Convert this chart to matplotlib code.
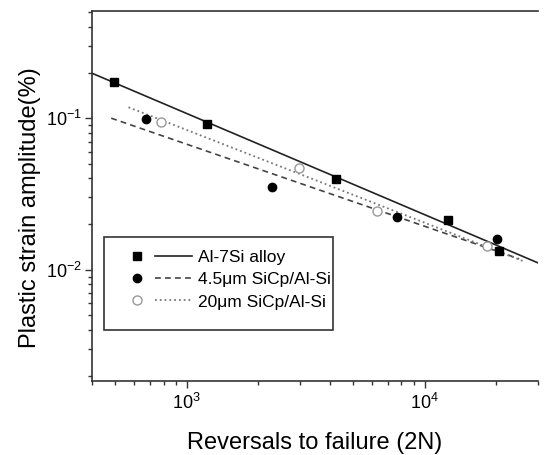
import matplotlib
matplotlib.use('Agg')
import matplotlib.pyplot as plt
from matplotlib.legend_handler import HandlerTuple
from matplotlib.patches import Rectangle
from matplotlib.ticker import LogLocator, NullFormatter, FixedLocator, FixedFormatter

plt.rcParams['font.family'] = ['Liberation Sans', 'DejaVu Sans']
plt.rcParams['mathtext.fontset'] = 'custom'
plt.rcParams['mathtext.rm'] = 'Liberation Sans'
plt.rcParams['mathtext.it'] = 'Liberation Sans:italic'

# Al-7Si alloy (squares)
al_n = [495, 1220, 4230, 12500, 20500]
al_eps = [0.172, 0.0913, 0.0394, 0.0214, 0.0132]

# 4.5um SiCp/Al-Si (filled circles)
sic45_n = [674, 2280, 7660, 20200]
sic45_eps = [0.0995, 0.035, 0.0222, 0.016]

# 20um SiCp/Al-Si (open circles)
sic20_n = [780, 2960, 6310, 18300]
sic20_eps = [0.0948, 0.0467, 0.0245, 0.0143]

# fitted lines (end points)
al_fit_n = [400, 30000]
al_fit_eps = [0.198, 0.0111]
sic45_fit_n = [482, 25000]
sic45_fit_eps = [0.100, 0.0118]
sic20_fit_n = [570, 26000]
sic20_fit_eps = [0.118, 0.0114]

labels = ['Al-7Si alloy', '4.5μm SiCp/Al-Si', '20μm SiCp/Al-Si']

fig = plt.figure(figsize=(5.44, 4.55), dpi=100)
ax = fig.add_axes([0.169, 0.163, 0.820, 0.813])

l1, = ax.plot(al_fit_n, al_fit_eps, '-', color='#222222', lw=1.2)
l2, = ax.plot(sic45_fit_n, sic45_fit_eps, '--', color='#444444', lw=1.2, dashes=(3.5, 2.5))
l3, = ax.plot(sic20_fit_n, sic20_fit_eps, ':', color='#777777', lw=1.3)

m1, = ax.plot(al_n, al_eps, 's', color='black', ms=5.5, ls='none')
m2, = ax.plot(sic45_n, sic45_eps, 'o', color='black', ms=6, ls='none')
m3, = ax.plot(sic20_n, sic20_eps, 'o', mfc='white', mec='#999999', mew=1.0, ms=6.5, ls='none')

ax.set_xscale('log')
ax.set_yscale('log')
ax.set_xlim(400, 30000)
ax.set_ylim(0.00185, 0.51)

ax.xaxis.set_major_locator(FixedLocator([1e3, 1e4]))
ax.xaxis.set_major_formatter(FixedFormatter([r'$10^{3}$', r'$10^{4}$']))
ax.xaxis.set_minor_locator(LogLocator(base=10, subs=range(2, 10)))
ax.xaxis.set_minor_formatter(NullFormatter())
ax.yaxis.set_major_locator(FixedLocator([1e-2, 1e-1]))
ax.yaxis.set_major_formatter(FixedFormatter([r'$10^{-2}$', r'$10^{-1}$']))
ax.yaxis.set_minor_locator(LogLocator(base=10, subs=range(2, 10)))
ax.yaxis.set_minor_formatter(NullFormatter())

ax.tick_params(which='major', direction='out', length=5, width=1, labelsize=13, color='#333333')
ax.tick_params(which='minor', direction='out', length=3, width=1, color='#333333')
ax.tick_params(axis='y', which='major', pad=2)
ax.tick_params(top=False, right=False)

for side in ['left', 'bottom', 'top']:
    ax.spines[side].set_color('#333333')
    ax.spines[side].set_linewidth(1.2)
ax.spines['right'].set_visible(False)

ax.set_xlabel('Reversals to failure (2N)', fontsize=17, labelpad=14)
ax.set_ylabel('Plastic strain amplitude(%)', fontsize=17)
ax.yaxis.set_label_coords(-0.115, 0.467)

# legend frame drawn separately so it can be taller than its contents
ax.add_patch(Rectangle((0.027, 0.138), 0.513, 0.251, transform=ax.transAxes,
                       fill=False, edgecolor='#333333', lw=1.2, zorder=5))

ax.legend([(m1, l1), (m2, l2), (m3, l3)], labels,
          handler_map={tuple: HandlerTuple(ndivide=None, pad=0)},
          loc='upper left', bbox_to_anchor=(0.059, 0.355),
          frameon=False, fontsize=12.5,
          handlelength=4.26, handletextpad=0.35, borderaxespad=0,
          borderpad=0, labelspacing=0.42)

fig.savefig('out.png', dpi=100)
